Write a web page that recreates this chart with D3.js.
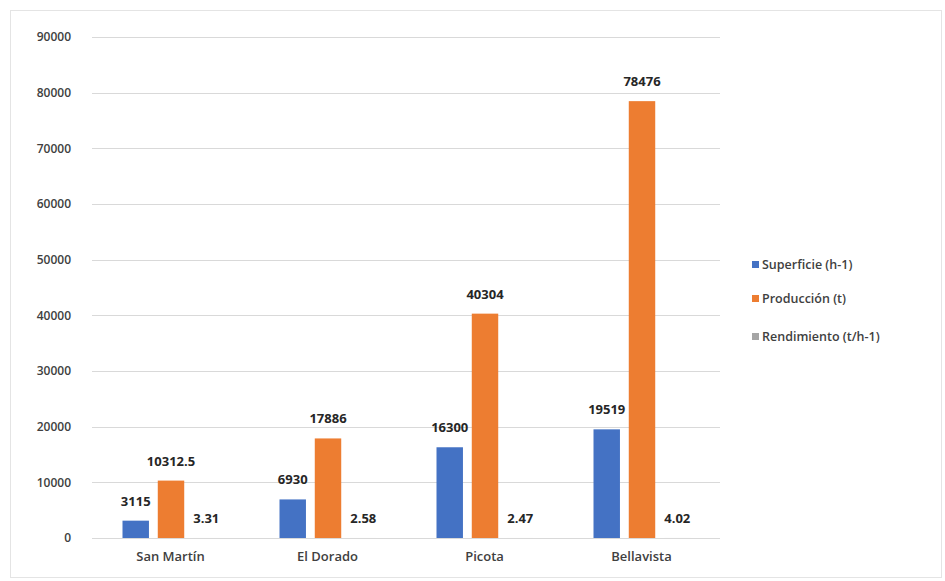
<!DOCTYPE html>
<html>
<head>
<meta charset="utf-8">
<script src="https://cdn.jsdelivr.net/npm/d3@7"></script>
<style>
body { margin: 0; background: #fff; }
svg { font-family: "Open Sans", "Liberation Sans", sans-serif; }
</style>
</head>
<body>
<div id="chart"></div>
<script>
// Data
var categories = ['San Martín', 'El Dorado', 'Picota', 'Bellavista'];
var seriesNames = ['Superficie (h-1)', 'Producción (t)', 'Rendimiento (t/h-1)'];
var superficie = [3115, 6930, 16300, 19519];
var produccion = [10312.5, 17886, 40304, 78476];
var rendimiento = [3.31, 2.58, 2.47, 4.02];
var yTicks = [0, 10000, 20000, 30000, 40000, 50000, 60000, 70000, 80000, 90000];
var colors = ['#4472C4', '#ED7D31', '#A5A5A5'];

var width = 945, height = 581;
var margin = {top: 37, left: 92, right: 225, bottom: 43};

var svg = d3.select('#chart').append('svg')
    .attr('width', width)
    .attr('height', height);

// chart border
svg.append('rect')
    .attr('x', 10.5).attr('y', 10.5)
    .attr('width', width - 14).attr('height', height - 14)
    .attr('fill', 'none')
    .attr('stroke', '#e4e4e4');

var x = d3.scaleBand()
    .domain(categories)
    .range([margin.left, width - margin.right]);

var series = [superficie, produccion, rendimiento];
var xInner = d3.scaleBand()
    .domain([0, 1, 2])
    .range([x.bandwidth() / 2 - 48, x.bandwidth() / 2 + 49])
    .paddingInner(0.25);

var y = d3.scaleLinear()
    .domain([0, 90000])
    .range([height - margin.bottom, margin.top]);

// gridlines
svg.append('g')
    .selectAll('line')
    .data(yTicks)
    .enter()
    .append('line')
    .attr('x1', margin.left)
    .attr('x2', width - margin.right)
    .attr('y1', function(d) { return Math.round(y(d)) + 0.5; })
    .attr('y2', function(d) { return Math.round(y(d)) + 0.5; })
    .attr('stroke', '#d9d9d9');

// y axis labels
var yAxis = svg.append('g')
    .attr('transform', 'translate(' + (margin.left - 18) + ',0)')
    .call(d3.axisLeft(y).tickValues(yTicks).tickSize(0).tickFormat(d3.format('d')));
yAxis.select('.domain').remove();
yAxis.selectAll('text')
    .attr('font-size', 12)
    .attr('font-weight', 600)
    .attr('fill', '#404040')
    .attr('font-family', '"Open Sans", sans-serif');

// x axis labels
var xAxis = svg.append('g')
    .attr('transform', 'translate(0,' + (height - margin.bottom) + ')')
    .call(d3.axisBottom(x).tickSize(0).tickPadding(14));
xAxis.select('.domain').remove();
xAxis.selectAll('text')
    .attr('font-size', 13)
    .attr('font-weight', 600)
    .attr('fill', '#404040')
    .attr('font-family', '"Open Sans", sans-serif');

// bars
var groups = svg.append('g')
    .selectAll('g')
    .data(categories)
    .enter()
    .append('g')
    .attr('transform', function(d) { return 'translate(' + x(d) + ',0)'; });

series.forEach(function(vals, s) {
    groups.append('rect')
        .attr('x', xInner(s))
        .attr('width', xInner.bandwidth())
        .attr('y', function(d, i) { return y(vals[i]); })
        .attr('height', function(d, i) { return y(0) - y(vals[i]); })
        .attr('fill', colors[s]);

    groups.append('text')
        .attr('x', xInner(s) + xInner.bandwidth() / 2)
        .attr('y', function(d, i) { return y(vals[i]) - 15; })
        .attr('text-anchor', 'middle')
        .attr('font-size', 13)
        .attr('font-weight', 700)
        .attr('fill', '#262626')
        .text(function(d, i) { return vals[i]; });
});

// legend
var legend = svg.append('g')
    .attr('transform', 'translate(752,0)')
    .selectAll('g')
    .data(seriesNames)
    .enter()
    .append('g')
    .attr('transform', function(d, i) { return 'translate(0,' + [265, 299, 337][i] + ')'; });

legend.append('rect')
    .attr('x', 0).attr('y', -4)
    .attr('width', 7).attr('height', 7)
    .attr('fill', function(d, i) { return colors[i]; });

legend.append('text')
    .attr('x', 10)
    .attr('y', 0)
    .attr('dy', '0.35em')
    .attr('font-size', 12.5)
    .attr('font-weight', 600)
    .attr('fill', '#404040')
    .text(function(d) { return d; });
</script>
</body>
</html>
